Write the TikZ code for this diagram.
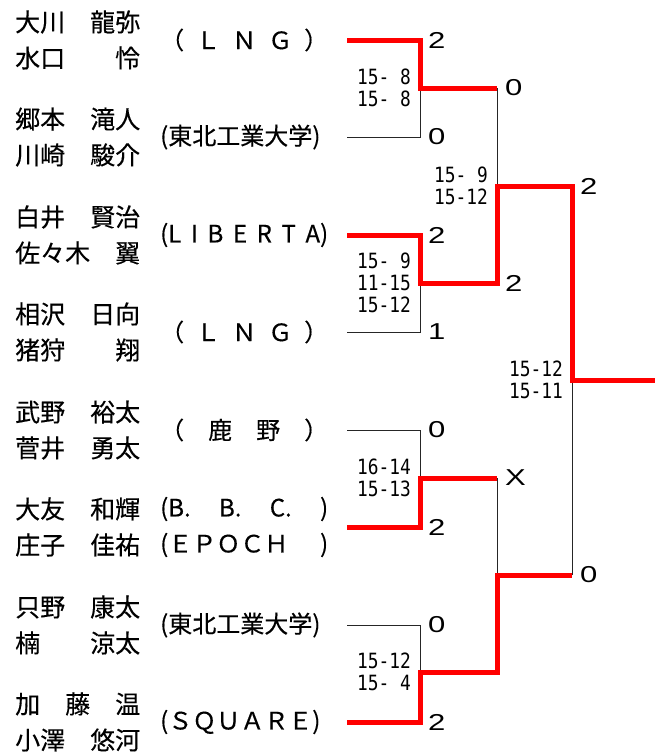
\documentclass[tikz,border=0pt]{standalone}
\usepackage{fontspec}
\usetikzlibrary{positioning}
\newfontfamily\jpfont[FakeBold=0.3]{Noto Sans CJK JP}
\newfontfamily\setfont[FakeStretch=0.85]{DejaVu Sans Mono}
\newfontfamily\ptfont[FakeStretch=1.35]{Liberation Sans}
\definecolor{winred}{RGB}{255,0,0}
\tikzset{
  win/.style={draw=winred,line width=5pt},
  lose/.style={draw=black!85,line width=1pt},
  player/.style={anchor=west,inner sep=0pt,font=\jpfont\fontsize{25}{25}\selectfont},
  team/.style={anchor=west,inner sep=0pt,font=\jpfont\fontsize{24}{24}\selectfont},
  pts/.style={inner sep=0pt,font=\ptfont\fontsize{23}{23}\selectfont},
  sets/.style={inner sep=0pt,align=right,font=\setfont\fontsize{21}{22}\selectfont}
}
\newcommand{\teambox}[1]{\makebox[168pt][s]{#1}}
\begin{document}
\begin{tikzpicture}[x=1pt,y=-1pt]
\useasboundingbox (0,0) rectangle (655,753);
\foreach \i/\y in {1/40,2/137,3/235,4/332,5/430,6/527,7/625,8/722}{
  \coordinate (e\i) at (347,\y);
  \coordinate (c\i) at (420,\y);
}
\path
(420,88) coordinate (m1) (420,283) coordinate (m2)
(420,478) coordinate (m3) (420,672) coordinate (m4)
(497,88) coordinate (a1) (497,283) coordinate (a2)
(497,478) coordinate (a3) (497,672) coordinate (a4)
(497,186) coordinate (s1) (497,575) coordinate (s2)
(572,186) coordinate (f1) (572,575) coordinate (f2)
(572,380) coordinate (fm) (655,380) coordinate (w);
% losers
\draw[lose] (e2)--(c2)--(m1) (e4)--(c4)--(m2) (e5)--(c5)--(m3) (e7)--(c7)--(m4);
\draw[lose] (a1)--(s1) (a3)--(s2) (f2)--(fm);
% winners
\draw[win] (e1)--(c1)--(m1)--(a1);
\draw[win] (e3)--(c3)--(m2)--(a2)--(s1)--(f1)--(fm)--(w);
\draw[win] (e6)--(c6)--(m3)--(a3);
\draw[win] (e8)--(c8)--(m4)--(a4)--(s2)--(f2);
% players
\foreach \i/\y/\a/\b in {1/40/大川　龍弥/水口　　怜,2/137/郷本　滝人/川崎　駿介,
  3/235/白井　賢治/佐々木　翼,4/332/相沢　日向/猪狩　　翔,5/430/武野　裕太/菅井　勇太,
  6/527/大友　和輝/庄子　佳祐,7/625/只野　康太/楠　　涼太,8/722/加　藤　温/小澤　悠河}{
  \node[player] (top\i) at (15,\y-18) {\a};
  \node[player] (bot\i) at (15,\y+18) {\b};
}
% teams
\node[team] (t1) at (160,40) {\teambox{（ Ｌ Ｎ Ｇ ）}};
\node[team] (t2) at (160,137) {\teambox{(東北工業大学)}};
\node[team] (t3) at (160,235) {\teambox{(L I B E R T A)}};
\node[team] (t4) at (160,332) {\teambox{（ Ｌ Ｎ Ｇ ）}};
\node[team] (t5) at (160,430) {\teambox{（ 鹿 野 ）}};
\node[team] (t6a) at (160,509) {\teambox{(B. B. C. )}};
\node[team] (t6b) at (160,545) {\teambox{(ＥＰＯＣＨ )}};
\node[team] (t7) at (160,625) {\teambox{(東北工業大学)}};
\node[team] (t8) at (160,722) {\teambox{(ＳＱＵＡＲＥ)}};
% points
\foreach \p/\q in {c1/2,c2/0,c3/2,c4/1,c5/0,c6/2,c7/0,c8/2,a1/0,a2/2,a3/X,f1/2,f2/0}
  \node[pts,right=8pt of \p] (pt-\p) {\q};
% set scores
\node[sets,left=9pt of m1] (set1) {15-~8\\15-~8};
\node[sets,left=9pt of m2] (set2) {15-~9\\11-15\\15-12};
\node[sets,left=9pt of m3] (set3) {16-14\\15-13};
\node[sets,left=9pt of m4] (set4) {15-12\\15-~4};
\node[sets,left=9pt of s1] (set5) {15-~9\\15-12};
\node[sets,left=9pt of fm] (set6) {15-12\\15-11};
\end{tikzpicture}
\end{document}
